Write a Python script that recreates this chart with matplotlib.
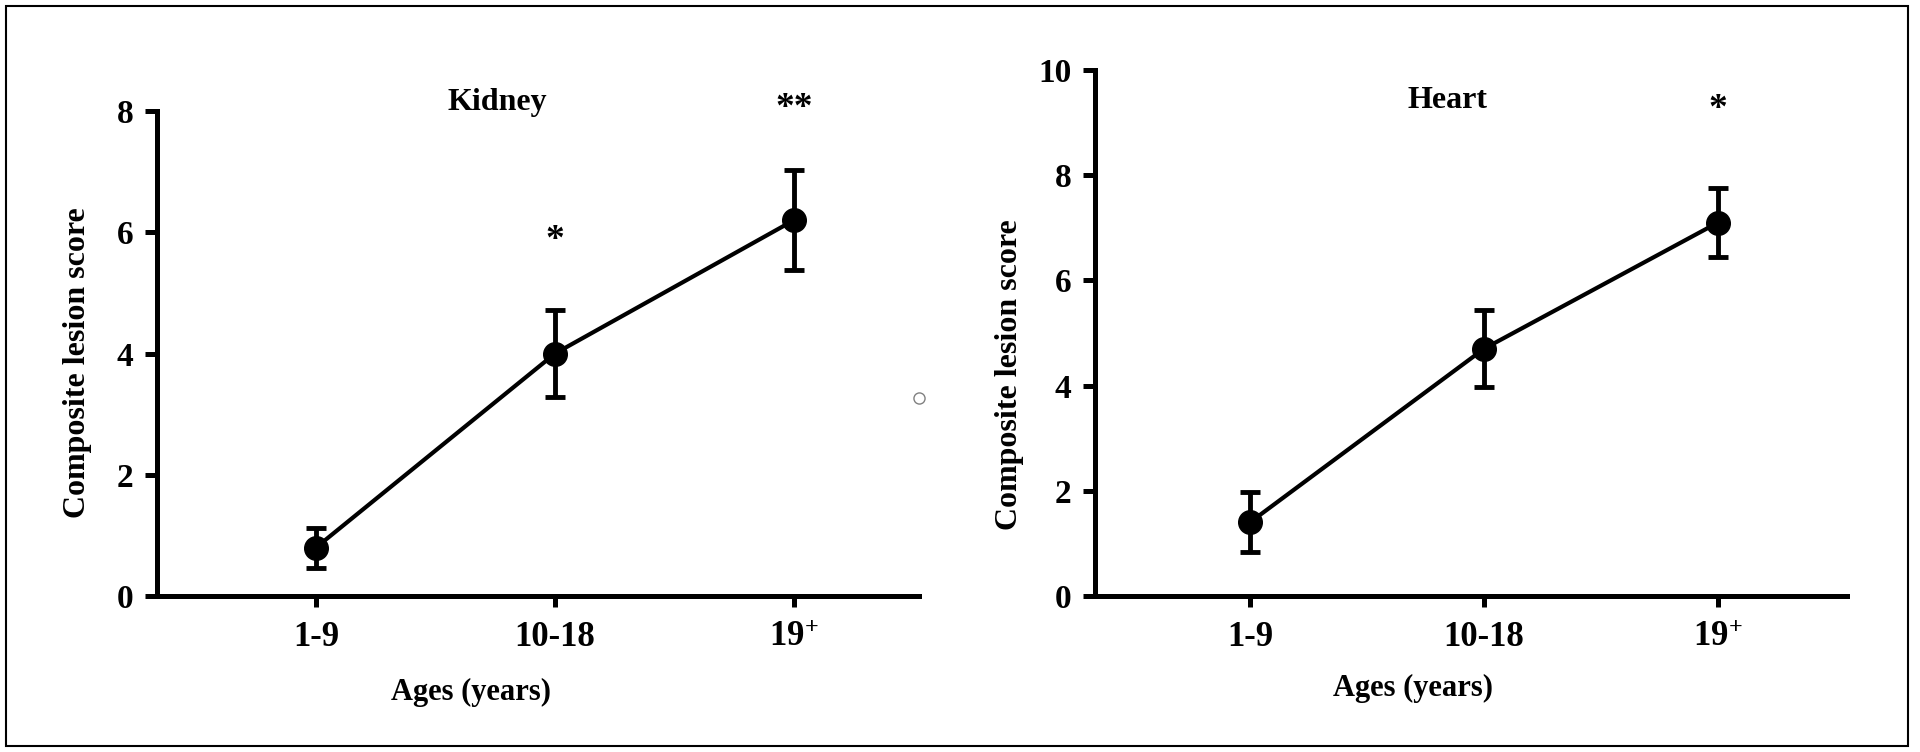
import matplotlib
matplotlib.use("Agg")
import matplotlib.pyplot as plt
from matplotlib.patches import Rectangle

plt.rcParams['font.family'] = ['Liberation Serif', 'DejaVu Serif']
plt.rcParams['font.weight'] = 'bold'
plt.rcParams['mathtext.fontset'] = 'custom'
plt.rcParams['mathtext.rm'] = 'Liberation Serif:bold'
plt.rcParams['mathtext.bf'] = 'Liberation Serif:bold'
plt.rcParams['mathtext.it'] = 'Liberation Serif:bold'

# age groups
ages = ['1-9', '10-18', '19$^{+}$']

# kidney panel
kidney_mean = [0.8, 4.0, 6.2]
kidney_err = [0.33, 0.72, 0.83]
kidney_stars = ['', '*', '**']
kidney_star_y = [0, 5.86, 8.04]

# heart panel
heart_mean = [1.4, 4.7, 7.1]
heart_err = [0.57, 0.73, 0.65]
heart_stars = ['', '', '*']
heart_star_y = [0, 0, 9.24]

fig = plt.figure(figsize=(19.2, 7.52), dpi=100)

# outer frame
fig.patches.append(Rectangle((0.003, 0.008), 0.991, 0.984, transform=fig.transFigure,
                             fill=False, edgecolor='black', linewidth=1.5))


def panel(rect, mean, err, stars, star_y, title, title_x, title_y, ymax, xlim, ylab_x, ylab_y, xlab_x, xlab_y):
    ax = fig.add_axes(rect)
    x = list(range(len(ages)))
    ax.errorbar(x, mean, yerr=err, color='black', linewidth=3, marker='o', markersize=17,
                capsize=7.5, capthick=3.5, elinewidth=3.5, clip_on=False, zorder=3)
    for xi, s, sy in zip(x, stars, star_y):
        if s:
            ax.text(xi, sy, s, ha='center', va='center', fontsize=27, fontweight='bold')
    ax.text(title_x, title_y, title, ha='center', va='baseline', fontsize=23, fontweight='bold')
    ax.set_xlim(*xlim)
    ax.set_ylim(0, ymax)
    ax.set_xticks(x)
    ax.set_xticklabels(ages, fontsize=25, fontweight='bold')
    ax.set_yticks(range(0, ymax + 1, 2))
    ax.set_yticklabels([str(v) for v in range(0, ymax + 1, 2)], fontsize=24, fontweight='bold')
    for s in ['top', 'right']:
        ax.spines[s].set_visible(False)
    for s in ['left', 'bottom']:
        ax.spines[s].set_linewidth(3.6)
    ax.tick_params(axis='both', width=3.6, direction='out')
    ax.tick_params(axis='x', length=8, pad=10)
    ax.tick_params(axis='y', length=9, pad=8)
    ax.set_ylabel('Composite lesion score', fontsize=23, fontweight='bold')
    ax.set_xlabel('Ages (years)', fontsize=22, fontweight='bold')
    ax.yaxis.set_label_coords(ylab_x, ylab_y)
    ax.xaxis.set_label_coords(xlab_x, xlab_y)
    return ax


panel([0.0818, 0.2074, 0.3969, 0.645], kidney_mean, kidney_err, kidney_stars, kidney_star_y,
      'Kidney', 0.76, 8.02, 8, (-0.665, 2.523), -0.085, 0.482, 0.412, -0.169)
panel([0.5703, 0.2074, 0.3917, 0.6996], heart_mean, heart_err, heart_stars, heart_star_y,
      'Heart', 0.846, 9.28, 10, (-0.662, 2.551), -0.094, 0.42, 0.423, -0.148)

# small grey circle between panels
fig.lines.append(plt.Line2D([0.4786], [0.4707], transform=fig.transFigure, marker='o', markersize=8,
                            markerfacecolor='white', markeredgecolor='grey', markeredgewidth=1,
                            linestyle='none'))

fig.savefig('out.png', dpi=100)
